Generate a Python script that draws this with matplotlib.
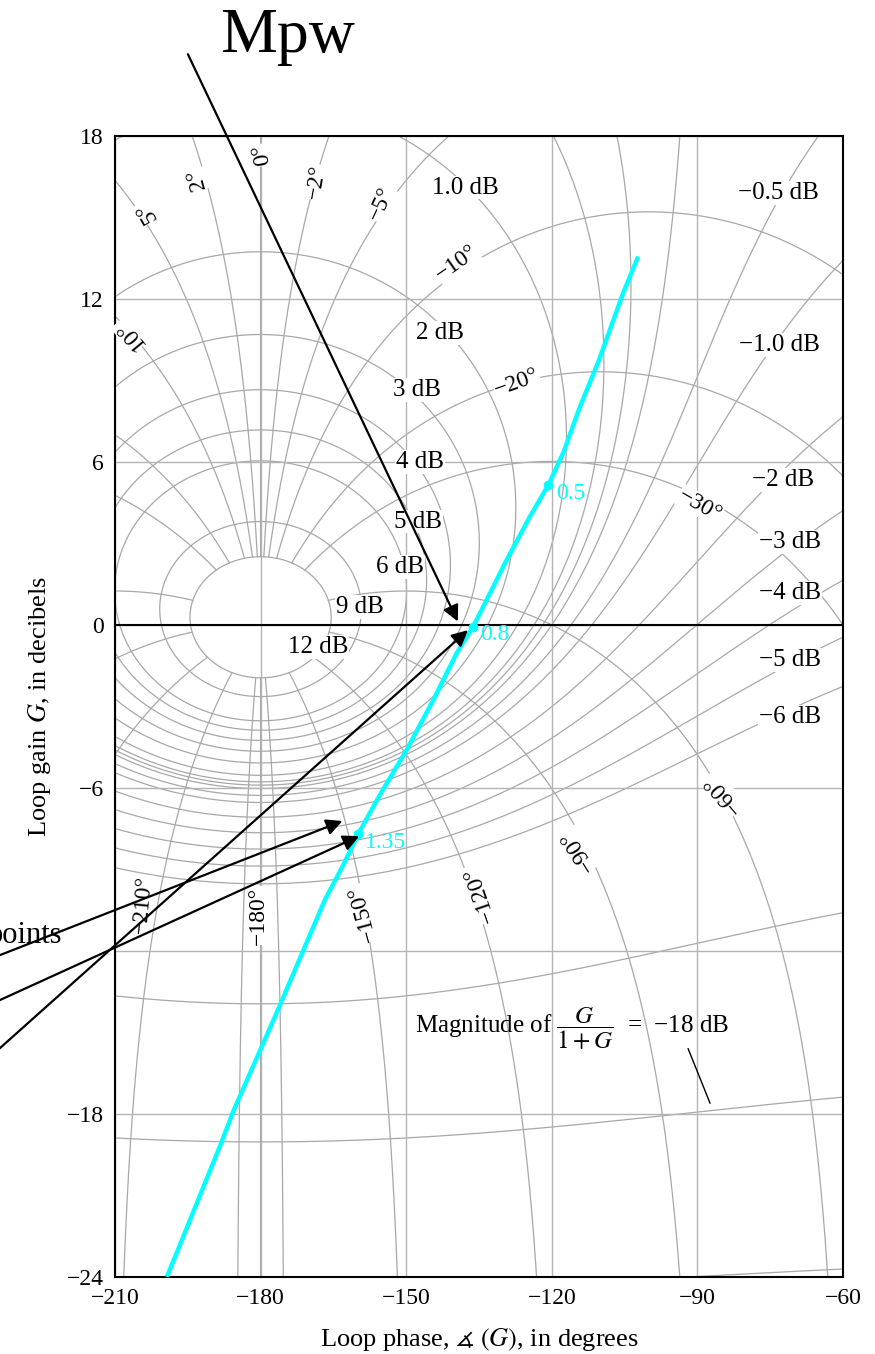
import numpy as np
import matplotlib
matplotlib.use("Agg")
import matplotlib.pyplot as plt

plt.rcParams.update({
    'font.family': ['Liberation Serif', 'DejaVu Serif'],
    'mathtext.fontset': 'stix',
    'axes.unicode_minus': True,
})

# Closed-loop magnitude contours (dB) and closed-loop phase contours (deg)
m_levels_db = [12, 9, 6, 5, 4, 3, 2, 1, 0.5, 0.25, 0, -0.5, -1, -2, -3, -4, -5, -6, -12, -18, -24]
phase_levels = [0, 2, -2, 5, -5, 10, -10, 20, -20, 30, -30, 60, -60, 90, -90,
                120, -120, 150, -150, 175, -175, 180]

# Loop frequency response
loop_phase = [-199.3, -188.4, -185.5, -176.5, -166.7, -163.0, -159.9, -155.4, -149.9,
              -144.4, -139.6, -136.2, -134.8, -129.3, -124.5, -120.7, -117.6, -114.2,
              -110.4, -105.3, -102.2]
loop_gain = [-24.0, -19.2, -17.85, -14.2, -10.1, -8.85, -7.7, -6.25, -4.6,
             -2.76, -1.04, -0.06, 0.43, 2.39, 3.99, 5.15, 6.35, 8.03,
             9.69, 12.21, 13.56]

# marked frequencies
freq_labels = ["0.5", "0.8", "1.35"]
freq_phase = [-120.7, -136.2, -159.9]
freq_gain = [5.15, -0.06, -7.7]

x_ticks = [-210, -180, -150, -120, -90, -60]
y_ticks = [-24, -18, -12, -6, 0, 6, 12, 18]
y_tick_labels = ["\u221224", "\u221218", "", "\u22126", "0", "6", "12", "18"]

m_labels = [("1.0 dB", -137.9, 16.1), ("2 dB", -143.0, 10.75), ("3 dB", -147.8, 8.65),
            ("4 dB", -147.2, 6.0), ("5 dB", -147.6, 3.8), ("6 dB", -151.3, 2.13),
            ("9 dB", -159.5, 0.66), ("12 dB", -168.2, -0.81),
            ("\u22120.5 dB", -73.4, 15.9), ("\u22121.0 dB", -73.0, 10.3),
            ("\u22122 dB", -72.4, 5.34), ("\u22123 dB", -70.9, 3.05),
            ("\u22124 dB", -70.9, 1.18), ("\u22125 dB", -70.9, -1.29),
            ("\u22126 dB", -70.9, -3.39)]

phase_labels = [("5\u00b0", -203.4, 15.2, 120), ("2\u00b0", -193.1, 16.4, 105),
                ("0\u00b0", -179.7, 17.3, 100), ("\u22122\u00b0", -168.4, 16.3, 80),
                ("\u22125\u00b0", -155.2, 15.5, 65), ("\u221210\u00b0", -139.5, 13.3, 35),
                ("\u221220\u00b0", -127.2, 8.9, 20), ("\u221230\u00b0", -89.5, 4.4, -30),
                ("10\u00b0", -206.9, 10.7, 130), ("\u221260\u00b0", -84.7, -6.2, 130),
                ("\u221290\u00b0", -114.6, -8.3, 122), ("\u2212120\u00b0", -134.8, -9.9, 109),
                ("\u2212150\u00b0", -158.9, -10.6, 105), ("\u2212180\u00b0", -180.5, -10.7, 90),
                ("\u2212210\u00b0", -204.2, -10.3, 85)]


def to_chart(G):
    G = np.where(np.isfinite(G), G, np.nan)
    ph = np.degrees(np.angle(G))
    ph = np.where(ph > 0, ph - 360, ph)
    db = 20 * np.log10(np.abs(G))
    cut = np.where(np.abs(np.diff(ph)) > 90)[0] + 1
    return np.insert(ph, cut, np.nan), np.insert(db, cut, np.nan)


def m_contour(m_db):
    M = 10 ** (m_db / 20)
    phi = np.radians(np.linspace(-179.99, 179.99, 7200))
    T = M * np.exp(1j * phi)
    with np.errstate(all='ignore'):
        return to_chart(T / (1 - T))


def phase_contour(phi_deg):
    M = np.logspace(-3, 12 / 20, 5001)
    T = M * np.exp(1j * np.radians(phi_deg))
    with np.errstate(all='ignore'):
        return to_chart(T / (1 - T))


fig = plt.figure(figsize=(8.75, 13.54), dpi=100)
ax = fig.add_axes([0.1314, 0.0569, 0.832, 0.8427])


def fig_xy(px, py):
    return px / 875, 1 - py / 1354


grey = '#a8a8a8'
for lev in m_levels_db:
    ph, db = m_contour(lev)
    ax.plot(ph, db, color=grey, lw=0.9, zorder=1)
for lev in phase_levels:
    ph, db = phase_contour(lev)
    ax.plot(ph, db, color=grey, lw=0.9, zorder=1)

ax.set_xlim(-210, -60)
ax.set_ylim(-24, 18)
ax.set_xticks(x_ticks)
ax.set_yticks(y_ticks)
ax.set_yticklabels(y_tick_labels)
ax.tick_params(length=0, labelsize=17, pad=8)
ax.grid(True, color='#b4b4b4', lw=1.0, zorder=0)
ax.axhline(0, color='black', lw=1.5, zorder=2)
for sp in ax.spines.values():
    sp.set_linewidth(1.5)

bg = dict(facecolor='white', edgecolor='none', pad=0.5)
for txt, x, y in m_labels:
    ax.text(x, y, txt, fontsize=18, ha='center', va='center', zorder=3, bbox=bg)
for txt, x, y, rot in phase_labels:
    ax.text(x, y, txt, fontsize=17, ha='center', va='center', rotation=rot,
            rotation_mode='anchor', zorder=3, bbox=bg)

ax.text(-148.2, -14.85, "Magnitude of $\\dfrac{G}{1+G}$ \u00a0=\u00a0 \u221218 dB", fontsize=18,
        ha='left', va='center', zorder=3)
ax.plot([-91.9, -87.4], [-15.6, -17.6], color='black', lw=1.0, zorder=3)

# loop response
ax.plot(loop_phase, loop_gain, color='#00ffff', lw=3.2, zorder=4, solid_capstyle='butt')
ax.plot(freq_phase, freq_gain, 'o', color='#00ffff', ms=6, zorder=5)
for lab, x, y in zip(freq_labels, freq_phase, freq_gain):
    ax.text(x + 1.5, y - 0.3, lab, color='#00ffff', fontsize=17, ha='left', va='center', zorder=5)

ax.set_xlabel(r"Loop phase, $\measuredangle$ $(G)$, in degrees", fontsize=19, labelpad=12)
ax.set_ylabel(r"Loop gain $G$, in decibels", fontsize=19, labelpad=10)

# annotations outside the axes
fig.text(*fig_xy(220, 52), "Mpw", fontsize=46, ha='left', va='baseline')
fig.text(*fig_xy(62, 943), "points", fontsize=22, ha='right', va='baseline')

arrows = [((186.7, 51.7), (459, 624)),
          ((-10, 959), (345, 820)),
          ((-10, 1004.6), (361.7, 835)),
          ((-10, 1057), (470, 628.3))]
for start, end in arrows:
    fig.add_artist(matplotlib.patches.FancyArrowPatch(
        fig_xy(*start), fig_xy(*end), transform=fig.transFigure,
        arrowstyle='-|>', mutation_scale=24, color='black', lw=1.6, zorder=10))

fig.savefig("out.png", dpi=100)
